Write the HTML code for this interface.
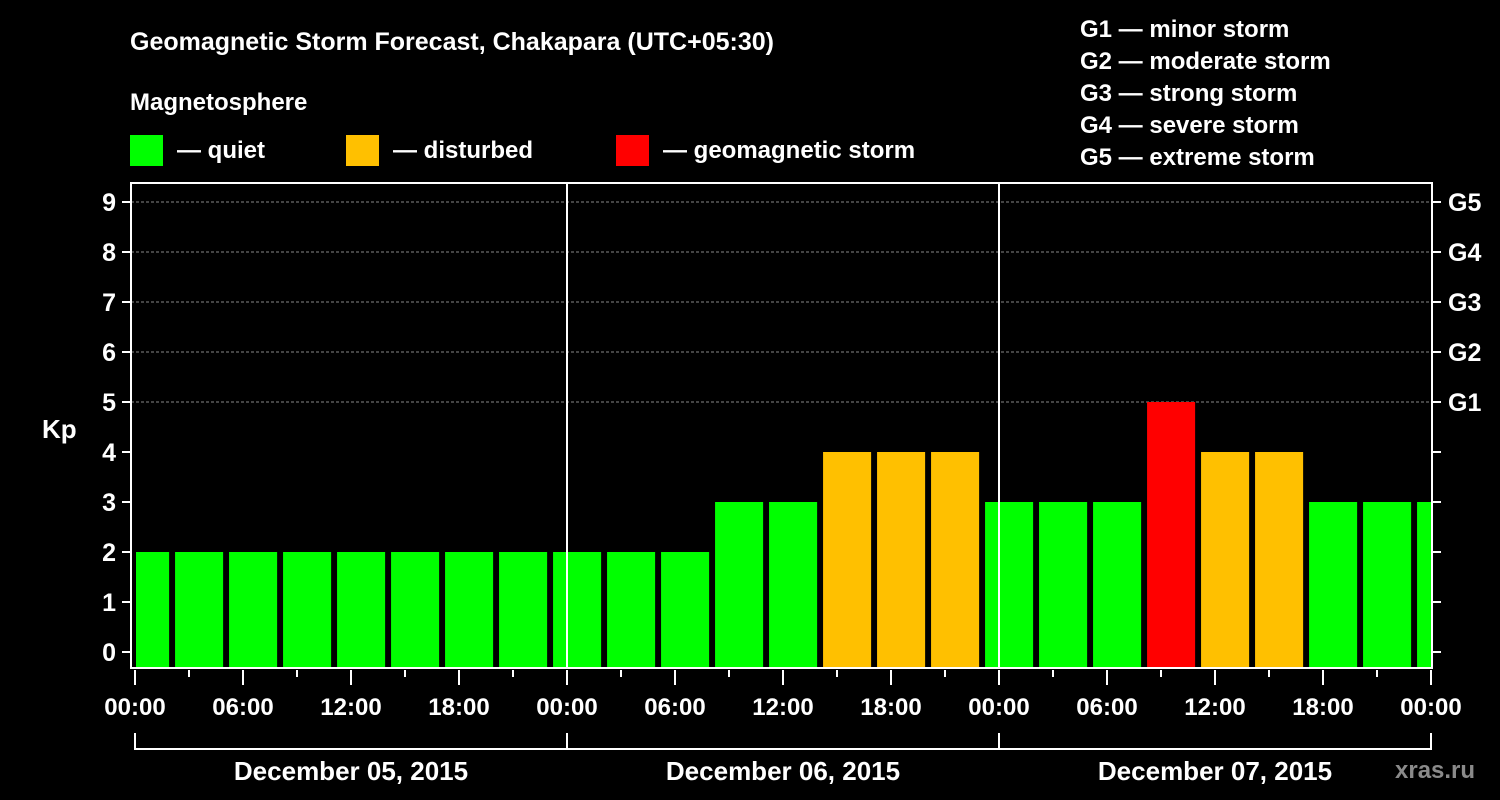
<!DOCTYPE html>
<html><head><meta charset="utf-8"><style>
body{margin:0;background:#000;width:1500px;height:800px;overflow:hidden}
svg{display:block}
text{font-family:"Liberation Sans",Arial,sans-serif;font-weight:bold;fill:#fff}
</style></head><body>
<svg id="c" width="1500" height="800" xmlns="http://www.w3.org/2000/svg">
<text x="130" y="50" font-size="25">Geomagnetic Storm Forecast, Chakapara (UTC+05:30)</text>
<text x="130" y="110" font-size="24">Magnetosphere</text>
<g><rect x="130" y="135" width="33" height="31" fill="#00ff00"/><text x="177" y="158" font-size="24">— quiet</text></g>
<g><rect x="346" y="135" width="33" height="31" fill="#ffc000"/><text x="393" y="158" font-size="24">— disturbed</text></g>
<g><rect x="616" y="135" width="33" height="31" fill="#ff0000"/><text x="663" y="158" font-size="24">— geomagnetic storm</text></g>
<g font-size="24">
<text x="1080" y="37">G1 — minor storm</text>
<text x="1080" y="69">G2 — moderate storm</text>
<text x="1080" y="101">G3 — strong storm</text>
<text x="1080" y="133">G4 — severe storm</text>
<text x="1080" y="165">G5 — extreme storm</text>
</g>
<text x="42" y="438" font-size="26">Kp</text>
<text x="1395" y="778" font-size="24" fill="#888" style="fill:#8a8a8a">xras.ru</text>
<g id="plot"></g>
</svg>
<script>
const kpValues=[2,2,2,2,2,2,2,2,2,2,2,3,3,4,4,4,3,3,3,5,4,4,3,3,3];
const yTicks=[0,1,2,3,4,5,6,7,8,9];
const gLabels=["G1","G2","G3","G4","G5"];
const gLevels=[5,6,7,8,9];
const hourLabels=["00:00","06:00","12:00","18:00"];
const dayLabels=["December 05, 2015","December 06, 2015","December 07, 2015"];
const NS="http://www.w3.org/2000/svg";
const L=131,R=1432,T=183,B=668,X0=135,HPX=18;
const x=h=>X0+h*HPX;
const y=v=>652-v*50;
const g=document.getElementById('plot');
function mk(t,a,p){const e=document.createElementNS(NS,t);for(const k in a)e.setAttribute(k,a[k]);(p||g).appendChild(e);return e;}
// grid
gLevels.forEach(v=>{const l=mk('line',{x1:L,x2:R,y1:y(v),y2:y(v),stroke:'#888','stroke-dasharray':'3,2','stroke-width':1});

});
// bars
kpValues.forEach((v,i)=>{let s=-0.83+3*i,e=s+2.67;s=Math.max(0,s);e=Math.min(72,e);
const c=v>=5?'#ff0000':v>=4?'#ffc000':'#00ff00';
const r=mk('rect',{x:x(s)+1,y:y(v),width:x(e)-x(s),height:B-y(v),fill:c});

});
// day separators
[1,2].forEach(d=>{const l=mk('line',{x1:x(24*d),x2:x(24*d),y1:T,y2:B,stroke:'#fff','stroke-width':2});

});
// frame
const f=mk('rect',{x:L,y:T,width:R-L,height:B-T,fill:'none',stroke:'#fff','stroke-width':2});


// y ticks
yTicks.forEach(v=>{mk('line',{x1:L-9,x2:L,y1:y(v),y2:y(v),stroke:'#fff','stroke-width':2});
mk('line',{x1:R,x2:R+9,y1:y(v),y2:y(v),stroke:'#fff','stroke-width':2});
const t=mk('text',{x:L-15,y:y(v)+9,'font-size':25,'text-anchor':'end'});t.textContent=v;

});
gLevels.forEach((v,i)=>{const t=mk('text',{x:1448,y:y(v)+9,'font-size':25});t.textContent=gLabels[i];

});
// x ticks
for(let h=0;h<=72;h+=3){const maj=h%6===0;mk('line',{x1:x(h),x2:x(h),y1:B+2,y2:B+(maj?17:9),stroke:'#fff','stroke-width':2});
if(maj){const t=mk('text',{x:x(h),y:715,'font-size':24,'text-anchor':'middle'});t.textContent=h===72?hourLabels[0]:hourLabels[(h/6)%4];

}}
// date brackets
mk('line',{x1:x(0),x2:x(72),y1:749,y2:749,stroke:'#fff','stroke-width':2});
[0,24,48,72].forEach(h=>mk('line',{x1:x(h),x2:x(h),y1:733,y2:750,stroke:'#fff','stroke-width':2}));
dayLabels.forEach((d,i)=>{const t=mk('text',{x:x(24*i+12),y:780,'font-size':26,'text-anchor':'middle'});t.textContent=d;

});
</script>
</body></html>
